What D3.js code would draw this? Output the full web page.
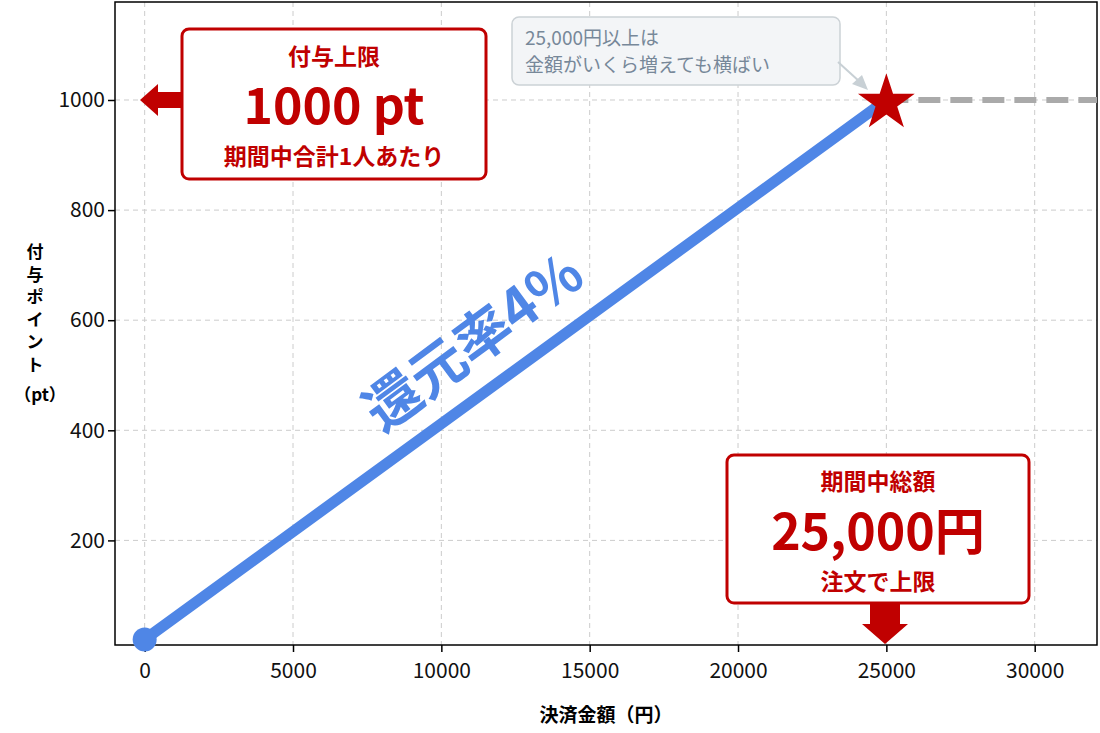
<!DOCTYPE html><html><head><meta charset="utf-8"><script src="https://cdn.jsdelivr.net/npm/d3@7"></script>
<style>body{margin:0;background:#fff}text{font-family:"Noto Sans CJK JP","Noto Sans",sans-serif}</style></head><body><svg id="c" width="1100" height="733"></svg><script>
const xTicks=[0,5000,10000,15000,20000,25000,30000];
const yTicks=[200,400,600,800,1000];
const lineX=[0,25000];
const lineY=[20,1000];
const capX=[25000,32100];
const capY=[1000,1000];
const svg=d3.select("#c");
const x=d3.scaleLinear().domain([-1000,32100]).range([115,1097]);
const y=d3.scaleLinear().domain([10,1178]).range([645,2]);
const g=svg.append("g");
xTicks.forEach(t=>g.append("line").attr("x1",x(t)).attr("x2",x(t)).attr("y1",2).attr("y2",645).attr("stroke","#ccc").attr("stroke-dasharray","5,4"));
yTicks.forEach(t=>g.append("line").attr("x1",115).attr("x2",1097).attr("y1",y(t)).attr("y2",y(t)).attr("stroke","#ccc").attr("stroke-dasharray","5,4"));
svg.append("rect").attr("x",115).attr("y",2).attr("width",982).attr("height",643).attr("fill","none").attr("stroke","#000").attr("stroke-width",1.5);
const xa=svg.append("g").attr("transform","translate(0,645)").call(d3.axisBottom(x).tickValues(xTicks).tickFormat(d3.format("d")).tickSize(7));
const ya=svg.append("g").attr("transform","translate(115,0)").call(d3.axisLeft(y).tickValues(yTicks).tickFormat(d3.format("d")).tickSize(7));
[xa,ya].forEach(a=>{a.select(".domain").remove();a.selectAll("text").attr("font-size",21).attr("fill","#111").style("font-family","'Noto Sans CJK JP'");a.selectAll("line").attr("stroke","#000").attr("stroke-width",1.5)});
xa.selectAll("text").attr("dy","1.1em");
svg.append("text").attr("x",606).attr("y",722).attr("text-anchor","middle").attr("font-size",19).attr("font-weight",700).text("決済金額（円）");
const yl=svg.append("text").attr("x",35).attr("font-size",17).attr("font-weight",700).attr("text-anchor","middle");
["付","与","ポ","イ","ン","ト"].forEach((c,i)=>yl.append("tspan").attr("x",35).attr("y",258+i*22.5).text(c));
yl.append("tspan").attr("x",40).attr("y",258+6*22.5+8).text("（pt）");
svg.append("line").attr("x1",x(capX[0])).attr("x2",x(capX[1])).attr("y1",y(capY[0])).attr("y2",y(capY[1])).attr("stroke","#aaa").attr("stroke-width",6).attr("stroke-dasharray","22,10");
svg.append("line").attr("x1",x(lineX[0])).attr("x2",x(lineX[1])).attr("y1",y(lineY[0])).attr("y2",y(lineY[1])).attr("stroke","#4f86e6").attr("stroke-width",11).attr("stroke-linecap","round");
svg.append("circle").attr("cx",x(lineX[0])).attr("cy",y(lineY[0])).attr("r",12).attr("fill","#4f86e6");
svg.append("path").attr("d",d3.symbol(d3.symbolStar,1000)()).attr("transform",`translate(${x(25000)},${y(1000)+3})`).attr("fill","#c00000");
svg.append("text").attr("transform","translate(485,358) rotate(-36.5)").attr("text-anchor","middle").attr("font-size",56).attr("font-weight",700).attr("fill","#4f86e6").text("還元率4%");
svg.append("rect").attr("x",512).attr("y",17).attr("width",328).attr("height",68).attr("rx",7).attr("fill","#f3f5f7").attr("stroke","#ccd2d6").attr("stroke-width",1.5);
svg.append("text").attr("x",525).attr("y",45).attr("font-size",19).attr("fill","#778899").text("25,000円以上は");
svg.append("text").attr("x",525).attr("y",72).attr("font-size",19).attr("fill","#778899").text("金額がいくら増えても横ばい");
svg.append("line").attr("x1",838).attr("y1",62).attr("x2",860).attr("y2",82).attr("stroke","#c8d0d5").attr("stroke-width",2);
svg.append("path").attr("d","M868,90 L852,84 L862,75 Z").attr("fill","#c8d0d5");
function box(x0,y0,w,h){svg.append("rect").attr("x",x0).attr("y",y0).attr("width",w).attr("height",h).attr("rx",7).attr("fill","#fff").attr("stroke","#c00000").attr("stroke-width",3);}
function t(xx,yy,s,txt){svg.append("text").attr("x",xx).attr("y",yy).attr("text-anchor","middle").attr("font-size",s).attr("font-weight",700).attr("fill","#c00000").text(txt);}
box(182,29,304,150);
t(334,65,23,"付与上限");t(334,124,50,"1000 pt");t(334,165,23,"期間中合計1人あたり");
svg.append("path").attr("d","M140,100 L158,84 L158,92 L182,92 L182,108 L158,108 L158,116 Z").attr("fill","#c00000");
box(727,455,302,148);
t(878,490,23,"期間中総額");t(878,550,50,"25,000円");t(878,590,23,"注文で上限");
svg.append("path").attr("d","M870,603 L870,624 L862,624 L885,644 L908,624 L900,624 L900,603 Z").attr("fill","#c00000");
</script></body></html>
